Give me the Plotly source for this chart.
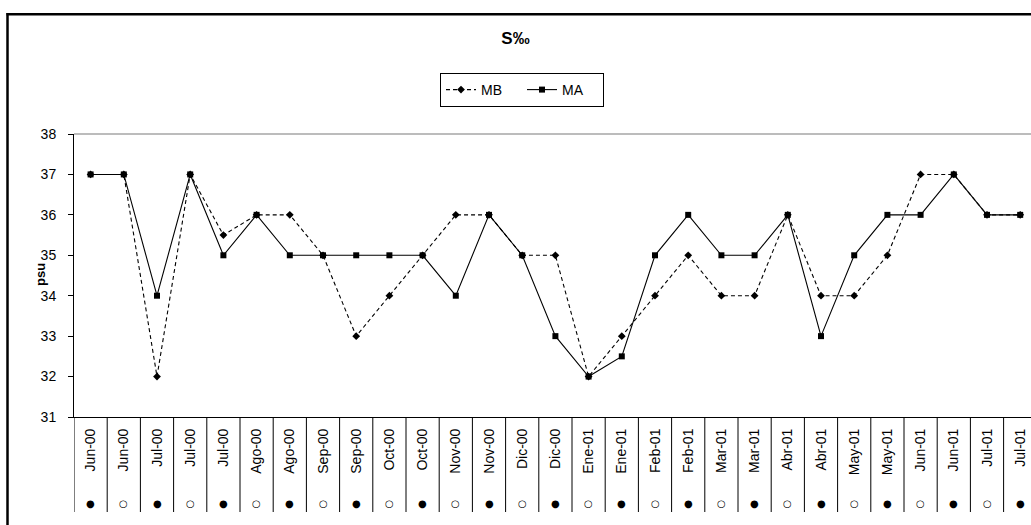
import plotly.graph_objects as go

# ---------------- data ----------------
labels = ["Jun-00", "Jun-00", "Jul-00", "Jul-00", "Jul-00", "Ago-00", "Ago-00",
          "Sep-00", "Sep-00", "Oct-00", "Oct-00", "Nov-00", "Nov-00", "Dic-00",
          "Dic-00", "Ene-01", "Ene-01", "Feb-01", "Feb-01", "Mar-01", "Mar-01",
          "Abr-01", "Abr-01", "May-01", "May-01", "Jun-01", "Jun-01", "Jul-01",
          "Jul-01"]
phase = ["●", "○", "●", "○", "●", "○", "●", "○", "●", "○", "●", "○", "●", "○",
         "●", "○", "●", "○", "●", "○", "●", "○", "●", "○", "●", "○", "●", "○",
         "●"]
mb = [37, 37, 32, 37, 35.5, 36, 36, 35, 33, 34, 35, 36, 36, 35, 35, 32, 33, 34,
      35, 34, 34, 36, 34, 34, 35, 37, 37, 36, 36]
ma = [37, 37, 34, 37, 35, 36, 35, 35, 35, 35, 35, 34, 36, 35, 33, 32, 32.5, 35,
      36, 35, 35, 36, 33, 35, 36, 36, 37, 36, 36]
y_ticks = [31, 32, 33, 34, 35, 36, 37, 38]

# ---------------- layout geometry ----------------
W, H = 1031, 525
ML, MR, MT, MB_ = 74, 0, 134, 108
PW = W - ML - MR
PH = H - MT - MB_
CELL = 33.2  # pixel width of one category


def px_x(px):
    return (px - ML) / PW


def px_y(py):
    return (H - MB_ - py) / PH


FONT = "Liberation Sans, Arial, sans-serif"
x = list(range(len(labels)))

fig = go.Figure()
fig.add_trace(go.Scatter(
    x=x, y=mb, name="MB", mode="lines+markers",
    line=dict(color="black", width=1.1, dash="4px,3px"),
    marker=dict(symbol="diamond", size=6, color="black"),
    cliponaxis=False,
))
fig.add_trace(go.Scatter(
    x=x, y=ma, name="MA", mode="lines+markers",
    line=dict(color="black", width=1.1),
    marker=dict(symbol="square", size=6, color="black"),
    cliponaxis=False,
))

shapes = []
# category separators under the axis
for i in range(len(labels) + 1):
    shapes.append(dict(type="line", xref="x", yref="paper",
                       x0=i - 0.5, x1=i - 0.5, y0=0, y1=px_y(512),
                       line=dict(color="black", width=1)))
# gray top line of plot area
shapes.append(dict(type="line", xref="paper", yref="paper", x0=0, x1=1.05,
                   y0=1, y1=1, line=dict(color="#a6a6a6", width=1.5)))
# outer frame (top and left visible)
shapes.append(dict(type="line", xref="paper", yref="paper",
                   x0=px_x(6.5), x1=1.1, y0=px_y(14.3), y1=px_y(14.3),
                   line=dict(color="black", width=2.5)))
shapes.append(dict(type="line", xref="paper", yref="paper",
                   x0=px_x(7.5), x1=px_x(7.5), y0=px_y(13), y1=px_y(540),
                   line=dict(color="black", width=2.5)))

annotations = []
for i, s in enumerate(phase):
    annotations.append(dict(x=i, y=px_y(503), xref="x", yref="paper",
                            text=s, showarrow=False,
                            font=dict(family="DejaVu Sans", size=10, color="black"),
                            xanchor="center", yanchor="middle"))
annotations.append(dict(x=px_x(40), y=px_y(275), xref="paper", yref="paper",
                        text="<b>psu</b>", textangle=-90, showarrow=False,
                        font=dict(family=FONT, size=13, color="black"),
                        xanchor="center", yanchor="middle"))

fig.update_layout(
    width=W, height=H,
    margin=dict(l=ML, r=MR, t=MT, b=MB_, pad=0),
    paper_bgcolor="white", plot_bgcolor="white",
    font=dict(family=FONT, size=14, color="black"),
    title=dict(text="<b>S‰</b>", x=0.5, xref="container", xanchor="center",
               y=1 - 38 / H, yref="container", yanchor="middle",
               font=dict(family=FONT, size=17, color="black")),
    showlegend=True,
    legend=dict(orientation="h", x=px_x(522), xanchor="center",
                y=px_y(73), yanchor="top", bgcolor="white",
                bordercolor="black", borderwidth=1,
                font=dict(family=FONT, size=14, color="black"),
                entrywidth=36, itemclick=False, tracegroupgap=0),
    xaxis=dict(range=[-0.5, -0.5 + PW / CELL], tickmode="array",
               tickvals=x, ticktext=labels, tickangle=-90,
               showgrid=False, zeroline=False, showline=True,
               linecolor="black", linewidth=1, ticks="",
               ticklabelstandoff=5,
               tickfont=dict(family=FONT, size=14, color="black")),
    yaxis=dict(range=[31, 38], tickmode="array", tickvals=y_ticks,
               showgrid=False, zeroline=False, showline=True,
               linecolor="black", linewidth=1, ticks="outside", ticklen=5,
               tickcolor="black", ticklabelstandoff=9,
               tickfont=dict(family=FONT, size=14, color="black")),
    shapes=shapes,
    annotations=annotations,
)

fig.write_html("out.html", config={"displayModeBar": False},
               post_script="document.body.style.margin='0';")
